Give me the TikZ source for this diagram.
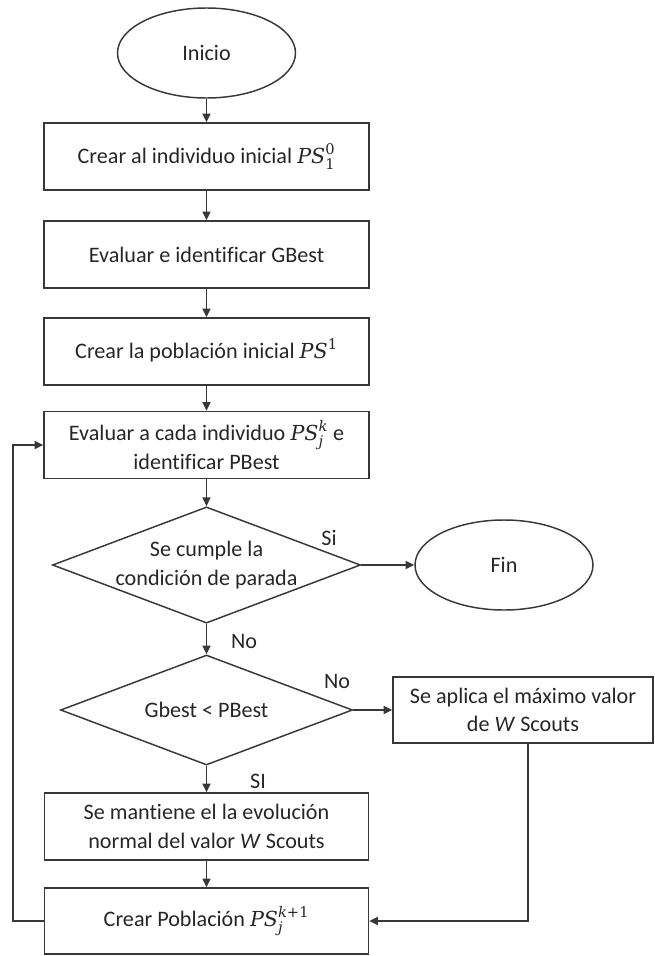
\documentclass[tikz,border=0pt]{standalone}
\usepackage{fontspec}
\setmainfont{Carlito}[Ligatures=CommonOff]
\newfontfamily\mathfnt{DejaVu Serif}
\usetikzlibrary{shapes.geometric,arrows.meta}

% PS with a subscript (#1) and a superscript (#2)
\newcommand{\psvar}[2]{$\mbox{\mathfnt\itshape\fontsize{15.5}{15.5}\selectfont PS}%
  ^{\mbox{\mathfnt\fontsize{11}{11}\selectfont #2}}%
  _{\mbox{\mathfnt\fontsize{11}{11}\selectfont #1}}$}

\tikzset{
  base/.style={draw=black!78, line width=1.1pt, text=black!85, align=center,
    inner sep=2pt, font=\fontsize{16.6}{21.5}\selectfont},
  proc/.style={base, rectangle, minimum width=243.75pt, minimum height=50.25pt},
  term/.style={base, ellipse, minimum width=133.5pt, minimum height=67.5pt, inner sep=0pt},
  decide/.style={base, diamond, aspect=2.65, minimum width=219pt, minimum height=82.5pt, inner sep=0pt},
  arr/.style={draw=black!78, line width=1.1pt, -{Triangle[length=6.5pt,width=6pt]}},
  lbl/.style={text=black!85, font=\fontsize{16.6}{20}\selectfont, inner sep=0pt}
}

\begin{document}
\begin{tikzpicture}[x=0.75pt, y=-0.75pt]
  \useasboundingbox (0,0) rectangle (654,956);

  \node[term] (inicio) at (206.5,53) {Inicio};
  \node[proc] (b1) at (206.5,156.5) {Crear al individuo inicial \psvar{1}{0}};
  \node[proc] (b2) at (206.5,254.5) {Evaluar e identificar GBest};
  \node[proc] (b3) at (206.5,351.5) {Crear la población inicial \psvar{}{1}};
  \node[proc] (b4) at (206.5,445) {Evaluar a cada individuo \psvar{\itshape j}{\itshape k} e\\identificar PBest};
  \node[decide] (d1) at (206.5,565) {Se cumple la\\condición de parada};
  \node[term] (fin) at (504,565) {Fin};
  \node[decide] (d2) at (206.5,710) {Gbest < PBest};
  \node[proc, minimum width=195pt, minimum height=49.5pt] (aplica) at (523,710)
    {Se aplica el máximo valor\\de \textit{W} Scouts};
  \node[proc, minimum width=243pt] (mant) at (206.5,826.5)
    {Se mantiene el la evolución\\normal del valor \textit{W} Scouts};
  \node[proc, minimum width=243pt, minimum height=49.5pt] (crear) at (206.5,921)
    {Crear Población \psvar{\itshape j}{{\itshape k}+1}};

  % branch labels
  \node[lbl] (lsi) at (329,538) {Si};
  \node[lbl] (lno1) at (244,641) {No};
  \node[lbl] (lno2) at (337,681) {No};
  \node[lbl] (lsi2) at (258,781) {SI};

  % main flow
  \draw[arr] (inicio) -- (b1);
  \draw[arr] (b1) -- (b2);
  \draw[arr] (b2) -- (b3);
  \draw[arr] (b3) -- (b4);
  \draw[arr] (b4) -- (d1);
  \draw[arr] (d1.east) -- (fin.west);
  \draw[arr] (d1.south) -- (d2.north);
  \draw[arr] (d2.east) -- (aplica.west);
  \draw[arr] (d2.south) -- (mant.north);
  \draw[arr] (mant) -- (crear);
  \draw[arr] ([xshift=3.75pt]aplica.south) |- (crear.east);
  % loop back to the evaluation step
  \draw[arr] (crear.west) -- ++(-31,0) |- (b4.west);
\end{tikzpicture}
\end{document}
